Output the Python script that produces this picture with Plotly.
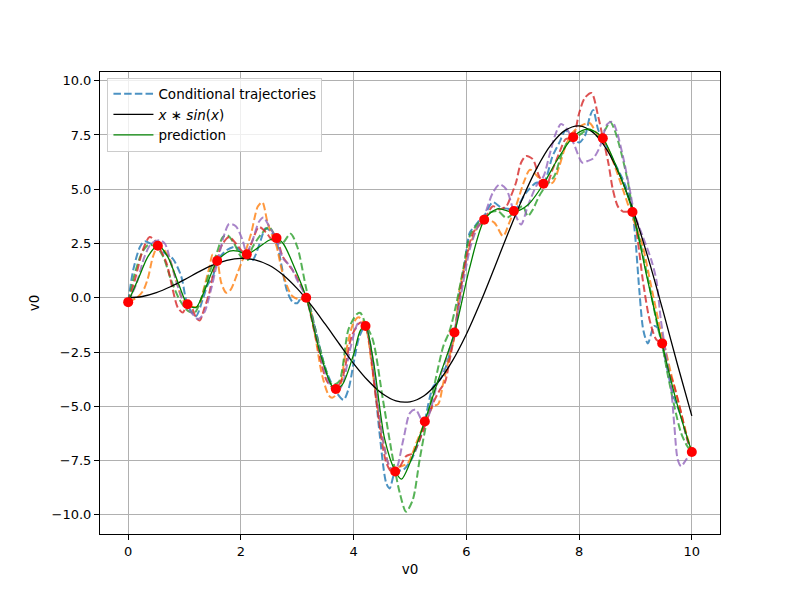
import plotly.graph_objects as go

# Observed (conditioning) points
x_obs = [0.0, 0.526, 1.053, 1.579, 2.105, 2.632, 3.158, 3.684, 4.211, 4.737,
         5.263, 5.789, 6.316, 6.842, 7.368, 7.895, 8.421, 8.947, 9.474, 10.0]
y_obs = [-0.2, 2.4, -0.3, 1.7, 2.0, 2.75, 0.0, -4.2, -1.3, -8.0,
         -5.7, -1.6, 3.6, 4.0, 5.25, 7.4, 7.35, 3.95, -2.1, -7.1]

# True function x*sin(x) read at 0.25 steps
x_true = [i * 0.25 for i in range(41)]
y_true = [0.0, 0.06, 0.24, 0.51, 0.84, 1.19, 1.50, 1.72, 1.82, 1.75, 1.50, 1.05,
          0.42, -0.35, -1.23, -2.14, -3.03, -3.80, -4.40, -4.75, -4.79, -4.51,
          -3.88, -2.92, -1.68, -0.21, 1.40, 3.04, 4.60, 5.97, 7.04, 7.71, 7.92,
          7.61, 6.79, 5.47, 3.71, 1.61, -0.71, -3.12, -5.44]

# Prediction (GP mean)
x_pred = [0, 0.2, 0.35, 0.53, 0.7, 0.9, 1.05, 1.2, 1.35, 1.58, 1.8, 1.95, 2.1, 2.3,
          2.5, 2.63, 2.75, 2.95, 3.16, 3.4, 3.6, 3.68, 3.8, 4.0, 4.12, 4.21, 4.35,
          4.55, 4.74, 4.85, 5.0, 5.26, 5.5, 5.79, 6.05, 6.32, 6.55, 6.84, 7.1, 7.37,
          7.6, 7.89, 8.1, 8.25, 8.42, 8.7, 8.95, 9.2, 9.47, 9.75, 10]
y_pred = [-0.2, 1.0, 1.9, 2.42, 1.9, 0.6, -0.3, -0.45, 0.3, 1.7, 2.15, 2.15, 2.0, 2.3,
          2.65, 2.75, 2.5, 1.4, 0.0, -2.5, -4.0, -4.2, -4.0, -2.6, -1.5, -1.3, -2.9,
          -6.5, -8.0, -8.35, -7.6, -5.7, -3.8, -1.6, 1.3, 3.6, 4.1, 3.95, 4.3, 5.25,
          6.3, 7.4, 7.75, 7.7, 7.35, 5.8, 3.95, 1.0, -2.1, -5.0, -7.1]

# Conditional trajectories (5 samples)
x_blue = [0, 0.09, 0.21, 0.29, 0.44, 0.53, 0.65, 0.79, 0.94, 1.05, 1.2, 1.32, 1.41, 1.5,
          1.58, 1.75, 1.91, 2.05, 2.2, 2.32, 2.44, 2.55, 2.63, 2.72, 2.82, 2.92, 3.0,
          3.08, 3.16, 3.29, 3.5, 3.68, 3.82, 3.91, 4.0, 4.1, 4.21, 4.34, 4.46, 4.58,
          4.64, 4.74, 4.88, 5.02, 5.17, 5.26, 5.41, 5.53, 5.64, 5.79, 5.88, 5.97, 6.06,
          6.15, 6.24, 6.32, 6.47, 6.62, 6.74, 6.84, 7.06, 7.24, 7.37, 7.53, 7.65, 7.76,
          7.89, 8.0, 8.11, 8.19, 8.25, 8.34, 8.42, 8.6, 8.78, 8.9, 8.95, 9.0, 9.07,
          9.14, 9.22, 9.33, 9.4, 9.47, 9.66, 9.81, 9.92, 10]
y_blue = [-0.2, 1.29, 2.35, 2.6, 2.45, 2.4, 2.05, 1.8, 1.0, -0.3, -0.85, -0.1, 0.6, 0.95,
          1.7, 2.2, 2.35, 1.95, 1.72, 2.4, 3.2, 3.0, 2.6, 1.5, 0.3, -0.2, -0.25,
          0.05, 0.0, -1.14, -3.26, -4.3, -4.7, -4.2, -3.0, -1.8, -1.3, -3.16, -6.24, -8.55,
          -8.78, -8.0, -7.93, -7.47, -6.55, -5.7, -4.1, -3.78, -3.16, -1.6, 0.2, 1.6, 3.0,
          3.3, 3.6, 3.8, 4.4, 4.15, 4.1, 4.0, 4.84, 5.3, 5.3, 6.53, 7.15, 7.7,
          7.4, 7.15, 7.5, 8.34, 8.65, 7.73, 7.35, 6.35, 5.43, 4.6, 3.95, 2.7, 0.3,
          -1.5, -2.1, -1.3, -1.4, -2.1, -4.39, -5.46, -6.53, -7.1]

x_orange = [0, 0.15, 0.26, 0.35, 0.44, 0.53, 0.62, 0.74, 0.85, 0.95, 1.05, 1.12, 1.24,
            1.35, 1.44, 1.5, 1.58, 1.65, 1.74, 1.82, 1.94, 2.06, 2.18, 2.3, 2.38, 2.47,
            2.55, 2.63, 2.74, 2.91, 3.05, 3.16, 3.3, 3.44, 3.56, 3.62, 3.74, 3.85, 4.0,
            4.09, 4.21, 4.34, 4.52, 4.67, 4.82, 4.96, 5.11, 5.26, 5.41, 5.5, 5.59, 5.7,
            5.79, 5.88, 6.06, 6.21, 6.35, 6.5, 6.65, 6.76, 6.88, 7.03, 7.13, 7.26, 7.38,
            7.53, 7.65, 7.76, 7.88, 8.03, 8.19, 8.31, 8.42, 8.57, 8.72, 8.9, 9.01, 9.13,
            9.28, 9.43, 9.52, 9.63, 9.78, 9.9, 10]
y_orange = [-0.2, 0.0, 0.3, 0.9, 1.9, 2.4, 2.27, 1.74, 0.83, 0.0, -0.3, -0.4, -0.4,
            0.5, 1.4, 2.0, 1.7, 0.7, 0.23, 0.38, 1.14, 1.97, 2.95, 4.2, 4.4, 3.5,
            2.9, 2.4, 1.14, 0.08, -0.08, 0.0, -1.5, -3.56, -4.5, -4.6, -4.3, -2.65, -1.14,
            -0.9, -1.3, -3.47, -6.55, -7.93, -7.78, -7.62, -6.7, -5.78, -5.0, -4.9, -3.93, -2.7,
            -1.78, 0.38, 2.38, 3.3, 3.61, 3.45, 2.84, 3.45, 4.22, 5.4, 5.9, 5.6, 5.3,
            5.3, 6.07, 6.99, 7.6, 7.92, 8.04, 7.58, 7.35, 6.5, 5.43, 4.05, 3.28, 2.36,
            0.52, -1.32, -2.24, -3.47, -5.0, -6.23, -7.1]

x_green = [0, 0.12, 0.24, 0.35, 0.5, 0.62, 0.76, 0.91, 1.06, 1.18, 1.29, 1.44, 1.56, 1.68,
           1.76, 1.88, 2.0, 2.12, 2.2, 2.35, 2.5, 2.63, 2.73, 2.88, 3.0, 3.15, 3.32, 3.5,
           3.62, 3.74, 3.91, 4.06, 4.12, 4.21, 4.34, 4.52, 4.7, 4.82, 4.93, 5.05, 5.17,
           5.29, 5.44, 5.59, 5.7, 5.82, 5.95, 6.06, 6.24, 6.41, 6.56, 6.71, 6.85, 7.0,
           7.09, 7.18, 7.29, 7.41, 7.56, 7.68, 7.79, 7.91, 8.06, 8.19, 8.34, 8.46, 8.55,
           8.63, 8.75, 8.87, 8.96, 9.1, 9.25, 9.4, 9.47, 9.57, 9.69, 9.81, 9.92, 10]
y_green = [-0.2, 1.14, 2.05, 2.42, 2.35, 1.9, 0.83, -0.08, -0.6, -0.68, -0.08, 1.14, 1.97, 2.8,
           2.88, 2.5, 1.9, 1.74, 2.3, 2.9, 3.26, 2.75, 2.5, 2.95, 2.35, 0.53, -1.44, -3.26,
           -4.0, -3.86, -1.44, -0.75, -0.7, -1.2, -1.93, -4.7, -7.47, -9.0, -9.85, -9.3, -7.47,
           -5.78, -3.93, -2.24, -1.55, -0.3, 1.4, 2.84, 3.53, 3.92, 3.99, 3.68, 3.92, 4.22,
           3.76, 4.07, 4.68, 5.15, 5.6, 6.53, 7.15, 7.3, 7.6, 7.75, 7.42, 7.73, 8.11,
           7.73, 6.66, 5.28, 3.9, 2.36, 0.52, -1.4, -2.1, -3.5, -5.0, -6.23, -6.84, -7.1]

x_red = [0, 0.12, 0.26, 0.38, 0.47, 0.53, 0.68, 0.79, 0.88, 0.97, 1.05, 1.12, 1.2, 1.27,
         1.35, 1.44, 1.56, 1.68, 1.79, 1.91, 2.03, 2.1, 2.2, 2.32, 2.45, 2.56, 2.63, 2.74,
         2.91, 3.0, 3.16, 3.32, 3.53, 3.68, 3.8, 3.97, 4.12, 4.21, 4.4, 4.58, 4.7, 4.82,
         4.93, 5.05, 5.17, 5.28, 5.41, 5.53, 5.62, 5.7, 5.79, 5.94, 6.12, 6.32, 6.47,
         6.59, 6.71, 6.79, 6.88, 6.97, 7.06, 7.18, 7.29, 7.41, 7.53, 7.65, 7.76, 7.89,
         8.0, 8.1, 8.22, 8.34, 8.42, 8.52, 8.6, 8.69, 8.78, 8.9, 8.96, 9.04, 9.13, 9.25,
         9.37, 9.47, 9.57, 9.69, 9.81, 9.92, 10]
y_red = [-0.2, 0.83, 2.2, 2.8, 2.65, 2.42, 1.6, 0.38, -0.45, -0.68, -0.3, -0.4, -0.9, -1.05,
         -0.5, 0.23, 1.74, 2.5, 2.8, 2.5, 2.12, 2.0, 2.6, 3.26, 3.0, 2.65, 2.75, 1.9,
         1.3, 0.9, 0.0, -1.74, -3.86, -4.2, -3.7, -1.74, -1.14, -1.3, -4.7, -7.6, -8.1, -7.78,
         -7.3, -7.16, -6.55, -5.78, -4.85, -4.24, -3.9, -2.9, -1.7, 0.99, 2.99, 3.6, 4.22,
         4.07, 4.22, 4.68, 5.3, 6.22, 6.53, 6.38, 5.6, 5.15, 5.91, 6.68, 7.3, 7.4,
         8.5, 9.2, 9.43, 8.34, 7.39, 6.2, 4.97, 4.2, 3.97, 3.97, 3.9, 2.67, 0.83, -1.01,
         -1.93, -2.09, -3.16, -4.08, -5.3, -6.53, -7.1]

x_purple = [0, 0.15, 0.29, 0.41, 0.56, 0.65, 0.76, 0.88, 1.0, 1.12, 1.24, 1.35, 1.47, 1.59,
            1.71, 1.79, 1.91, 2.03, 2.1, 2.2, 2.32, 2.4, 2.5, 2.63, 2.75, 2.88, 3.0, 3.16,
            3.35, 3.5, 3.68, 3.8, 3.94, 4.09, 4.21, 4.34, 4.52, 4.64, 4.74, 4.88, 5.0, 5.1,
            5.2, 5.26, 5.35, 5.47, 5.64, 5.79, 5.88, 6.06, 6.18, 6.32, 6.47, 6.59, 6.71,
            6.84, 6.97, 7.09, 7.24, 7.37, 7.47, 7.59, 7.68, 7.79, 7.91, 8.06, 8.15, 8.25,
            8.37, 8.42, 8.5, 8.59, 8.66, 8.78, 8.9, 8.98, 9.13, 9.28, 9.37, 9.45, 9.54,
            9.63, 9.69, 9.75, 9.81, 9.9, 10]
y_purple = [-0.2, 0.68, 1.9, 2.5, 2.65, 2.5, 1.6, 0.53, -0.3, -0.68, -0.98, -0.68, 0.38, 1.74,
            2.95, 3.4, 3.3, 2.65, 2.1, 2.6, 3.5, 3.7, 3.3, 2.7, 1.8, 1.45, 0.8, 0.0,
            -1.9, -3.5, -4.4, -4.0, -2.35, -1.14, -1.3, -2.85, -6.55, -7.78, -7.95, -6.55, -5.3, -5.15,
            -5.6, -5.75, -5.3, -4.08, -2.85, -1.6, -0.24, 2.22, 3.15, 3.8, 4.84, 5.22, 4.99,
            4.0, 3.38, 4.22, 5.15, 5.6, 6.53, 7.6, 8.0, 7.76, 7.07, 6.22, 6.3, 6.42,
            6.96, 7.4, 8.0, 8.1, 7.73, 6.5, 4.97, 3.9, 2.82, 1.75, 0.83, -1.01, -2.55,
            -4.08, -5.9, -7.45, -7.76, -7.45, -7.1]

traj = [
    (x_blue, y_blue, "#1f77b4"),
    (x_orange, y_orange, "#ff7f0e"),
    (x_green, y_green, "#2ca02c"),
    (x_red, y_red, "#d62728"),
    (x_purple, y_purple, "#9467bd"),
]

FONT = "DejaVu Sans"
fig = go.Figure()
for i, (xs, ys, c) in enumerate(traj):
    fig.add_trace(go.Scatter(
        x=xs, y=ys, mode="lines",
        line=dict(color=c, width=2, dash="7.5px,3.2px", shape="spline", smoothing=0.8),
        opacity=0.8, name="Conditional trajectories", showlegend=(i == 0), legendrank=1))

fig.add_trace(go.Scatter(x=x_true, y=y_true, mode="lines", line=dict(color="black", width=1.3, shape="spline"),
                         name="<i>x</i> ∗ <i>sin</i>(<i>x</i>)", legendrank=2))
fig.add_trace(go.Scatter(x=x_pred, y=y_pred, mode="lines",
                         line=dict(color="green", width=1.3, shape="spline", smoothing=0.8),
                         name="prediction", legendrank=3))
fig.add_trace(go.Scatter(x=x_obs, y=y_obs, mode="markers", marker=dict(color="red", size=10),
                         showlegend=False))

axis_common = dict(
    showgrid=True, gridcolor="#b0b0b0", gridwidth=0.8, zeroline=False,
    showline=True, linecolor="black", linewidth=1, mirror=True,
    ticks="outside", ticklen=5, tickcolor="black", tickwidth=1,
    tickfont=dict(family=FONT, size=13, color="black"),
)
fig.update_xaxes(range=[-0.5, 10.5], tickvals=[0, 2, 4, 6, 8, 10],
                 title=dict(text="v0", font=dict(family=FONT, size=13.5, color="black"), standoff=6), **axis_common)
fig.update_yaxes(range=[-10.88, 10.40], tickvals=[-10, -7.5, -5, -2.5, 0, 2.5, 5, 7.5, 10], tickformat=".1f",
                 title=dict(text="v0", font=dict(family=FONT, size=13.5, color="black"), standoff=8), **axis_common)

fig.update_layout(
    width=800, height=600,
    margin=dict(l=100, r=80, t=72, b=66),
    paper_bgcolor="white", plot_bgcolor="white",
    font=dict(family=FONT, size=13, color="black"),
    legend=dict(x=0.012, y=0.988, xanchor="left", yanchor="top",
                bgcolor="rgba(255,255,255,0.8)", bordercolor="#cccccc", borderwidth=1,
                font=dict(family=FONT, size=13.5, color="black"), tracegroupgap=0,
                itemwidth=40),
)

fig.write_html("out.html")
